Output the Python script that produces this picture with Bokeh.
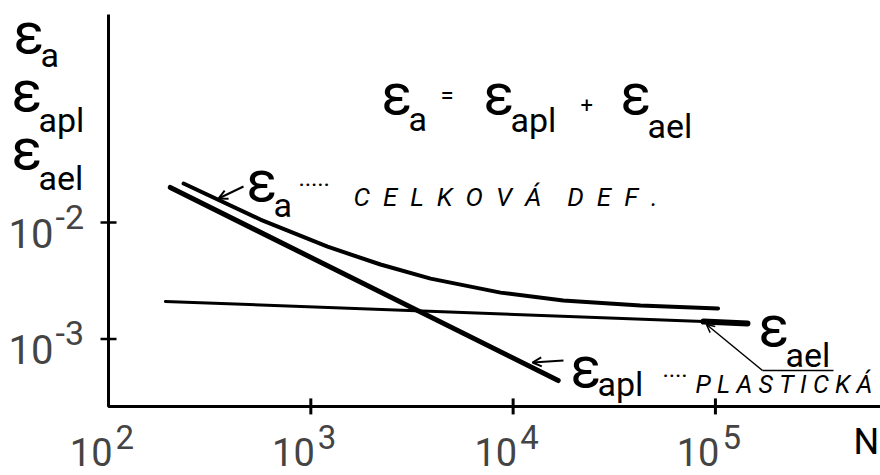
import math

from bokeh.plotting import figure
from bokeh.models import Label, Arrow, OpenHead, Range1d
from bokeh.embed import file_html
from bokeh.resources import INLINE

# Strain amplitude vs. number of cycles (log-log)
n_total = [235, 563, 1210, 2210, 3910, 8670, 17700, 42600, 103000]
eps_total = [0.0216, 0.0106, 0.0062, 0.00436, 0.0033, 0.0025, 0.00214, 0.00194, 0.00183]

n_plastic = [202, 16700]
eps_plastic = [0.0200, 0.00044]

n_elastic = [191, 87300, 144000]
eps_elastic = [0.0021, 0.00141, 0.00136]

x_tick_values = [100, 1000, 10000, 100000]
x_tick_exponents = ["2", "3", "4", "5"]
y_tick_values = [1e-2, 1e-3]
y_tick_exponents = ["-2", "-3"]

# extent of the drawn axes
axis_n = (100, 10 ** 5.816)
axis_eps = (10 ** -3.579, 10 ** -0.215)

W, H = 880, 475
FONT = "Roboto"
DESC = 0.22  # distance from the bottom of a letter label box up to its baseline, in em

p = figure(width=W, height=H, x_axis_type="log", y_axis_type="log",
           x_range=Range1d(10 ** 1.466, 10 ** 5.816), y_range=Range1d(10 ** -4.172, 10 ** -0.094),
           min_border=0, toolbar_location=None, output_backend="svg",
           x_axis_location=None, y_axis_location=None)
p.outline_line_color = None
p.grid.visible = False
p.background_fill_color = "white"
p.border_fill_color = "white"

# axes with cross ticks
p.line([axis_n[0], axis_n[0], axis_n[1]], [axis_eps[1], axis_eps[0], axis_eps[0]],
       line_width=3, line_color="black")
p.scatter(x_tick_values[1:], [axis_eps[0]] * 3, marker="dash", angle=math.pi / 2,
          size=16, line_width=3, line_color="black")
p.scatter([axis_n[0]] * 2, y_tick_values, marker="dash", size=16, line_width=2.5,
          line_color="black")

# curves
p.line(n_total, eps_total, line_width=4, line_color="black", line_cap="round", line_join="round")
p.line(n_plastic, eps_plastic, line_width=5, line_color="black", line_cap="round")
p.line(n_elastic[:2], eps_elastic[:2], line_width=3, line_color="black", line_cap="round")
p.line(n_elastic[1:], eps_elastic[1:], line_width=6, line_color="black", line_cap="round")


def put(text, X, Y, size, align="left", style="normal"):
    """Text with its baseline at canvas pixel row Y (counted from the top)."""
    p.add_layout(Label(x=X, y=H - Y - DESC * size, x_units="screen", y_units="screen",
                       text=text, text_font=FONT, text_font_size=f"{size}px",
                       text_align=align, text_baseline="bottom",
                       text_font_style=style, text_color="black"))


def symbol(X, Y, sub, sub_dx=27, sub_dy=16, size=57, sub_size=34):
    put("ε", X, Y, size)
    put(sub, X + sub_dx, Y + sub_dy, sub_size)


def pointer(x0, y0, x1, y1, head=True, width=2.0, head_size=9):
    p.add_layout(Arrow(x_start=x0, y_start=H - y0, x_end=x1, y_end=H - y1,
                       start_units="screen", end_units="screen",
                       end=OpenHead(size=head_size, line_width=width) if head else None,
                       line_width=width, line_color="black"))


# tick labels (digit boxes sit on their baseline)
for v, e in zip(x_tick_values, x_tick_exponents):
    p.add_layout(Label(x=v, y=H - 465, x_units="data", y_units="screen",
                       text="10", x_offset=4, text_align="right", text_baseline="bottom",
                       text_font=FONT, text_font_size="38px"))
    p.add_layout(Label(x=v, y=H - 448, x_units="data", y_units="screen",
                       text=e, x_offset=7, text_align="left", text_baseline="bottom",
                       text_font=FONT, text_font_size="33px"))
for v, e in zip(y_tick_values, y_tick_exponents):
    p.add_layout(Label(x=53, y=v, x_units="screen", y_units="data", text="10",
                       y_offset=-25, text_align="right", text_baseline="bottom",
                       text_font=FONT, text_font_size="40px"))
    p.add_layout(Label(x=55, y=v, x_units="screen", y_units="data", text=e,
                       y_offset=-6, text_align="left", text_baseline="bottom",
                       text_font=FONT, text_font_size="34px"))

put("N", 853, 455, 36)

# stacked axis titles
symbol(13, 54, "a", sub_dy=13)
symbol(11, 112, "apl", sub_dy=20)
symbol(11, 170, "ael", sub_dy=20)

# relation between the components
symbol(381, 115, "a")
put("=", 440, 104, 24)
symbol(483, 115, "apl", sub_dy=17)
put("+", 580, 108, 22)
symbol(620, 115, "ael", sub_dy=23)

# curve labels
symbol(246, 202, "a", sub_dy=15)
pointer(243, 186, 218, 198)
put("·····", 298, 193, 24)
put("C\u2002E\u2002L\u2002K\u2002O\u2002V\u2002Á\u2003D\u2002E\u2002F\u2002.",
    353, 206, 26, style="italic")

symbol(570, 388, "apl", sub_dy=8)
pointer(563, 360, 532, 362)
put("····", 662, 384, 24)
put("P\u2005L\u2005A\u2005S\u2005T\u2005I\u2005C\u2005K\u2005Á", 695, 393, 25, style="italic")

symbol(758, 347, "ael", sub_dy=20)
pointer(762, 370, 706, 324, width=1.5, head_size=8)
pointer(762, 370, 833, 370, head=False, width=1.5)

open("out.html", "w").write(file_html(p, INLINE))
